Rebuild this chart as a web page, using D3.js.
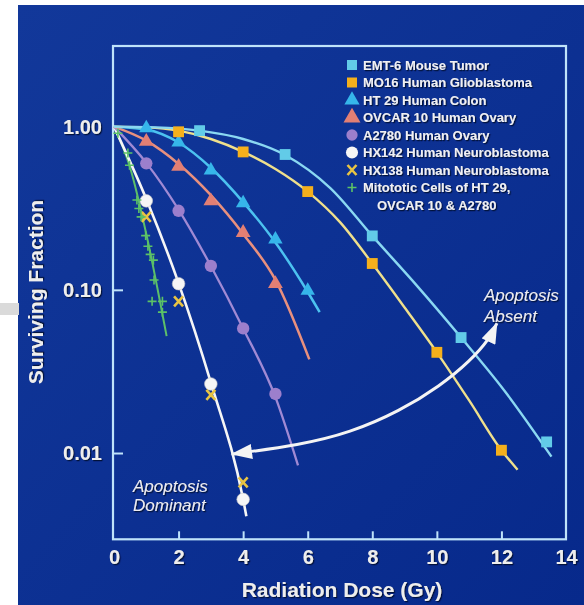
<!DOCTYPE html>
<html><head><meta charset="utf-8">
<script src="https://cdn.jsdelivr.net/npm/d3@7"></script>
<style>html,body{margin:0;padding:0;background:#fff;} svg{display:block;}</style>
</head><body><svg id="c" width="584" height="605"></svg>
<script>
// ---------- data (dose in Gy, surviving fraction) ----------
const doseTicks = [0, 2, 4, 6, 8, 10, 12, 14];
const sfTicks = [1, 0.1, 0.01];
const sfTickLabels = ["1.00", "0.10", "0.01"];

const legendNames = ["EMT-6 Mouse Tumor", "MO16 Human Glioblastoma", "HT 29 Human Colon",
  "OVCAR 10 Human Ovary", "A2780 Human Ovary", "HX142 Human Neuroblastoma",
  "HX138 Human Neuroblastoma", "Mitototic Cells of HT 29,"];
const legendExtra = "OVCAR 10 & A2780";

const emt6Points = [[2.65, 0.945], [5.3, 0.675], [8.0, 0.214], [10.75, 0.051], [13.4, 0.0117]];
const emt6Curve = [[0, 1], [1.3, 0.99], [2.65, 0.945], [4, 0.84], [5.3, 0.67], [6.7, 0.42], [8, 0.214], [9.4, 0.105], [10.75, 0.051], [12.1, 0.024], [13.55, 0.0095]];

const mo16Points = [[2, 0.93], [4, 0.70], [6, 0.40], [8, 0.145], [10, 0.0414], [12, 0.0104]];
const mo16Curve = [[0, 1], [1, 0.99], [2, 0.945], [3, 0.84], [4, 0.70], [5, 0.55], [6, 0.40], [7, 0.26], [8, 0.145], [9, 0.078], [10, 0.0414], [11, 0.021], [12, 0.0104], [12.5, 0.0079]];

const ht29Points = [[1, 0.98], [2, 0.80], [3, 0.54], [4, 0.34], [5, 0.204], [6, 0.099]];
const ht29Curve = [[0, 1], [1, 0.96], [2, 0.80], [3, 0.56], [4, 0.345], [5, 0.195], [6, 0.097], [6.37, 0.073]];

const ovcarPoints = [[1, 0.81], [2, 0.57], [3, 0.35], [4, 0.224], [5, 0.109]];
const ovcarCurve = [[0, 1], [1, 0.82], [2, 0.59], [3, 0.38], [4, 0.22], [5, 0.115], [6.05, 0.0375]];

const a2780Points = [[1, 0.596], [2, 0.305], [3, 0.14], [4, 0.058], [5, 0.023]];
const a2780Curve = [[0, 1], [1, 0.6], [2, 0.31], [3, 0.14], [4, 0.058], [5, 0.022], [5.7, 0.0084]];

const hx142Points = [[1, 0.351], [2, 0.109], [3, 0.0265], [4, 0.0052]];
const hx142Curve = [[0, 1], [1, 0.36], [2, 0.11], [3, 0.027], [4, 0.0052], [4.1, 0.0041]];

const hx138Points = [[1, 0.28], [2, 0.085], [3, 0.0227], [4, 0.0066]];

const mitoticPoints = [[0.12, 0.91], [0.43, 0.69], [0.48, 0.58], [0.71, 0.355], [0.77, 0.315], [0.84, 0.28],
  [0.98, 0.215], [1.05, 0.185], [1.12, 0.165], [1.22, 0.152], [1.24, 0.115], [1.18, 0.085], [1.5, 0.085], [1.5, 0.073]];
const mitoticCurve = [[0, 1], [0.5, 0.56], [1.0, 0.22], [1.63, 0.052]];

const arrowPath = [[3.645, 0.00984], [5.76, 0.0112], [7.31, 0.0133], [8.86, 0.0181], [10.1, 0.0258], [11.03, 0.0366], [11.65, 0.0507], [11.86, 0.0626]];

// ---------- drawing ----------
const svg = d3.select("#c");
const defs = svg.append("defs");
const grad = defs.append("linearGradient").attr("id", "bg").attr("x1", 0).attr("y1", 0).attr("x2", 1).attr("y2", 1);
grad.append("stop").attr("offset", "0%").attr("stop-color", "#12389a");
grad.append("stop").attr("offset", "100%").attr("stop-color", "#07298b");
const f = defs.append("filter").attr("id", "sh").attr("x", "-10%").attr("y", "-30%").attr("width", "130%").attr("height", "160%");
f.append("feDropShadow").attr("dx", 1.2).attr("dy", 1.2).attr("stdDeviation", 0.7).attr("flood-color", "#000a30").attr("flood-opacity", 0.9);
defs.append("marker").attr("id", "ah").attr("viewBox", "0 0 20 14").attr("refX", 19).attr("refY", 7)
  .attr("markerWidth", 22).attr("markerHeight", 15).attr("markerUnits", "userSpaceOnUse")
  .attr("orient", "auto-start-reverse")
  .append("path").attr("d", "M0,0 L20,7 L0,14 Z").attr("fill", "#f4f4f4");

svg.append("rect").attr("x", 18).attr("y", 5).attr("width", 566).attr("height", 600).attr("fill", "url(#bg)");
svg.append("rect").attr("x", 0).attr("y", 303).attr("width", 19).attr("height", 12).attr("fill", "#dadada");

const x = d3.scaleLinear().domain([0, 14]).range([114, 566]);
const y = d3.scaleLog().domain([0.00296, 3.12]).range([539.3, 46]);

const frameColor = "#bfe3fa";
const font = "'Liberation Sans', Arial, Helvetica, sans-serif";

// axes
const xAxis = d3.axisBottom(x).tickValues(doseTicks).tickSize(-8).tickPadding(11).tickFormat(d3.format("d"));
const gx = svg.append("g").attr("transform", `translate(0,${y.range()[0]})`).call(xAxis);
gx.select(".domain").remove();
gx.selectAll(".tick line").attr("stroke", frameColor).attr("stroke-width", 2)
  .attr("display", d => (d === 0 || d === 14) ? "none" : null);
gx.selectAll(".tick text").attr("fill", "#eeeeee").attr("font-family", font).attr("font-weight", "bold")
  .attr("font-size", 20).attr("filter", "url(#sh)");

const yAxis = d3.axisLeft(y).tickValues(sfTicks).tickSize(-10).tickPadding(11)
  .tickFormat((d, i) => sfTickLabels[i]);
const gy = svg.append("g").attr("transform", `translate(${x(0) - 1},0)`).call(yAxis);
gy.select(".domain").remove();
gy.selectAll(".tick line").attr("stroke", frameColor).attr("stroke-width", 2);
gy.selectAll(".tick text").attr("fill", "#eeeeee").attr("font-family", font).attr("font-weight", "bold")
  .attr("font-size", 20).attr("filter", "url(#sh)");

// frame
svg.append("rect").attr("x", x(0) - 1).attr("y", y.range()[1]).attr("width", x(14) - x(0) + 1)
  .attr("height", y.range()[0] - y.range()[1]).attr("fill", "none").attr("stroke", frameColor).attr("stroke-width", 2.2);

// axis titles
svg.append("text").attr("transform", "translate(43,292) rotate(-90)").attr("text-anchor", "middle")
  .attr("font-family", font).attr("font-weight", "bold").attr("font-size", 21).attr("fill", "#eeeeee")
  .attr("filter", "url(#sh)").text("Surviving Fraction");
svg.append("text").attr("x", 342).attr("y", 597).attr("text-anchor", "middle")
  .attr("font-family", font).attr("font-weight", "bold").attr("font-size", 21).attr("fill", "#eeeeee")
  .attr("filter", "url(#sh)").text("Radiation Dose (Gy)");

// curves
const line = d3.line().x(d => x(d[0])).y(d => y(d[1])).curve(d3.curveMonotoneX);
const curves = [
  [mitoticCurve, "#5cbf6a", 2],
  [hx142Curve, "#f6f6f6", 2.6],
  [a2780Curve, "#a08ad4", 2.3],
  [ovcarCurve, "#e8907e", 2.5],
  [ht29Curve, "#4cc2f0", 2.5],
  [mo16Curve, "#efe08c", 2.4],
  [emt6Curve, "#8ad8f2", 2.4]
];
curves.forEach(([c, col, w]) => {
  svg.append("path").datum(c).attr("d", line).attr("fill", "none").attr("stroke", col).attr("stroke-width", w);
});

// arrow
svg.append("path").datum(arrowPath)
  .attr("d", d3.line().x(d => x(d[0])).y(d => y(d[1])).curve(d3.curveBasis))
  .attr("fill", "none").attr("stroke", "#f4f4f4").attr("stroke-width", 3)
  .attr("marker-start", "url(#ah)").attr("marker-end", "url(#ah)");

// markers
const sym = (type, size) => d3.symbol().type(type).size(size)();
function drawSymbols(pts, type, size, fill, stroke) {
  svg.append("g").selectAll("path").data(pts).join("path")
    .attr("transform", d => `translate(${x(d[0])},${y(d[1])})`)
    .attr("d", sym(type, size)).attr("fill", fill)
    .attr("stroke", stroke || "none").attr("stroke-width", 0.6);
}
drawSymbols(a2780Points, d3.symbolCircle, 120, "#9c7fcc");
drawSymbols(ovcarPoints, d3.symbolTriangle, 95, "#e27f74");
drawSymbols(ht29Points, d3.symbolTriangle, 90, "#36b6ea");
drawSymbols(mo16Points, d3.symbolSquare, 118, "#f5b01c");
drawSymbols(emt6Points, d3.symbolSquare, 118, "#62cbe8");
drawSymbols(hx142Points, d3.symbolCircle, 125, "#f6f6f6", "#c8c8c8");

const xPath = "M-4.5,-5 L4.5,5 M4.5,-5 L-4.5,5";
svg.append("g").selectAll("path").data(hx138Points).join("path")
  .attr("transform", d => `translate(${x(d[0])},${y(d[1])})`)
  .attr("d", xPath).attr("stroke", "#e9c443").attr("stroke-width", 2.6).attr("fill", "none");
const plusPath = "M-4.5,0 L4.5,0 M0,-4.5 L0,4.5";
svg.append("g").selectAll("path").data(mitoticPoints).join("path")
  .attr("transform", d => `translate(${x(d[0])},${y(d[1])})`)
  .attr("d", plusPath).attr("stroke", "#5cc266").attr("stroke-width", 1.6).attr("fill", "none");

// annotations
function italicText(xp, yp, t) {
  svg.append("text").attr("x", xp).attr("y", yp).attr("font-family", font).attr("font-style", "italic")
    .attr("font-size", 17).attr("fill", "#ececf2").attr("filter", "url(#sh)").text(t);
}
italicText(484, 301, "Apoptosis");
italicText(484, 321.5, "Absent");
italicText(133, 491.5, "Apoptosis");
italicText(133, 511, "Dominant");

// legend
const legX = 352, legY0 = 65, legStep = 17.5;
const legendSyms = [
  g => g.append("path").attr("d", sym(d3.symbolSquare, 100)).attr("fill", "#62cbe8"),
  g => g.append("path").attr("d", sym(d3.symbolSquare, 100)).attr("fill", "#f5b01c"),
  g => g.append("path").attr("d", sym(d3.symbolTriangle, 100)).attr("fill", "#36b6ea"),
  g => g.append("path").attr("d", sym(d3.symbolTriangle, 125)).attr("fill", "#e27f74"),
  g => g.append("path").attr("d", sym(d3.symbolCircle, 100)).attr("fill", "#9c7fcc"),
  g => g.append("path").attr("d", sym(d3.symbolCircle, 115)).attr("fill", "#f6f6f6"),
  g => g.append("path").attr("d", xPath).attr("stroke", "#e9c443").attr("stroke-width", 2.6),
  g => g.append("path").attr("d", plusPath).attr("stroke", "#5cc266").attr("stroke-width", 1.6)
];
legendNames.forEach((name, i) => {
  const cy = legY0 + i * legStep;
  const g = svg.append("g").attr("transform", `translate(${legX},${cy})`);
  legendSyms[i](g);
  svg.append("text").attr("x", 363).attr("y", cy + 4.6).attr("font-family", font).attr("font-weight", "bold")
    .attr("font-size", 13).attr("fill", "#f0f0f4").attr("filter", "url(#sh)").text(name);
});
svg.append("text").attr("x", 377).attr("y", legY0 + 8 * legStep + 4.6).attr("font-family", font).attr("font-weight", "bold")
  .attr("font-size", 13).attr("fill", "#f0f0f4").attr("filter", "url(#sh)").text(legendExtra);
</script></body></html>
